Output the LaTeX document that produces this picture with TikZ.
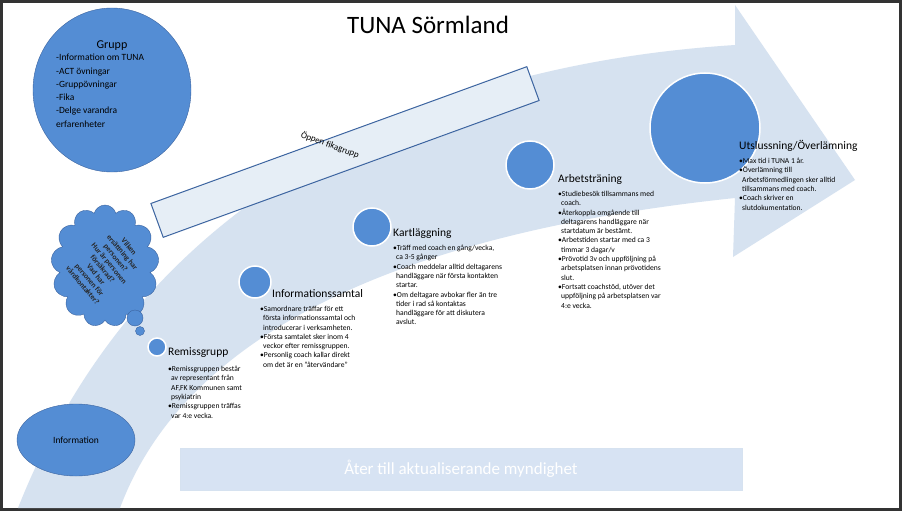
\documentclass[tikz,border=0pt]{standalone}
\usepackage{fontspec}
\setmainfont{Carlito}
\usetikzlibrary{shapes.symbols,shapes.geometric}
\definecolor{band}{RGB}{214,226,240}
\definecolor{cblue}{RGB}{84,141,212}
\definecolor{dblue}{RGB}{60,100,160}
\tikzset{
  step circle/.style={circle,fill=cblue,draw=white,line width=1.5pt,inner sep=0pt},
  head/.style={font=\fontsize{11.5}{13}\selectfont,anchor=west,inner sep=0pt},
  body/.style={font=\fontsize{7.6}{9.3}\selectfont,anchor=north west,inner sep=0pt,align=left},
}
\begin{document}
\begin{tikzpicture}[x=1pt,y=-1pt]
\fill[white] (0,0) rectangle (902,511);
\draw[black!80,line width=3pt] (1.5,1.5) rectangle (900.5,509.5);
% arrow band
\fill[band] (18,508) .. controls (120,250) and (350,70) .. (735,45)
  -- (735,5) -- (855,180) -- (733,257) -- (735,198)
  .. controls (430,230) and (190,320) .. (120,508) -- cycle;
% open group rectangle
\node[draw=dblue,fill=band!60,line width=1pt,minimum width=400,minimum height=36,rotate=20] (fika) at (345,152) {};
\node[rotate=-20,font=\fontsize{9}{10}\selectfont] (fikat) at (330,145) {Öppen fikagrupp};
% back rectangle
\node[fill=band!80!cblue!60,draw=band,minimum width=562,minimum height=42,
  text=white,font=\fontsize{17}{20}\selectfont] (ater) at (461,469) {Åter till aktualiserande myndighet};
\node[font=\fontsize{25}{30}\selectfont] (title) at (428,25) {TUNA Sörmland};
% grupp
\node[ellipse,fill=cblue,draw=dblue,minimum width=158,minimum height=164] (grupp) at (112,90) {};
\node[font=\fontsize{12}{14}\selectfont] (gt) at (112,46) {Grupp};
\node[font=\fontsize{9.5}{13.3}\selectfont,align=left,anchor=north west,inner sep=0pt] (gl) at (56,54)
 {-Information om TUNA\\-ACT övningar\\-Gruppövningar\\-Fika\\-Delge varandra\\erfarenheter};
% information
\node[ellipse,fill=cblue,draw=dblue,minimum width=118,minimum height=72,
  font=\fontsize{9.5}{11}\selectfont] (info) at (76,440) {Information};
% cloud
\node[cloud,cloud puffs=13,aspect=0.85,fill=cblue,draw=dblue,minimum width=108,minimum height=122] (cloud) at (105,266) {};
\node[circle,fill=cblue,draw=dblue,minimum size=16,inner sep=0] (p1) at (135,318) {};
\node[circle,fill=cblue,draw=dblue,minimum size=9,inner sep=0] (p2) at (140,331) {};
\node[rotate=-50,align=center,font=\bfseries\fontsize{7.5}{8.6}\selectfont,text=black!85] (ct) at (106,266)
 {Vilken\\ersättning har\\personen?\\Hur är personen\\försäkrad?\\Vad har\\personen för\\vårdkontakter?};
% steps
\node[step circle,minimum size=18] (c1) at (157,347) {};
\node[step circle,minimum size=32] (c2) at (255,282) {};
\node[step circle,minimum size=38] (c3) at (372,227) {};
\node[step circle,minimum size=48] (c4) at (530,165) {};
\node[step circle,minimum size=110] (c5) at (705,128) {};
\node[head] (h1) at (168,353) {Remissgrupp};
\node[body] (b1) at (168,366) {•Remissgruppen består\\\ \,av representant från\\\ \,AF,FK Kommunen samt\\\ \,psykiatrin\\•Remissgruppen träffas\\\ \,var 4:e vecka.};
\node[head] (h2) at (272,294) {Informationssamtal};
\node[body] (b2) at (260,306) {•Samordnare träffar för ett\\\ \,första informationssamtal och\\\ \,introducerar i verksamheten.\\•Första samtalet sker inom 4\\\ \,veckor efter remissgruppen.\\•Personlig coach kallar direkt\\\ \,om det är en ”återvändare”};
\node[head] (h3) at (393,233) {Kartläggning};
\node[body] (b3) at (393,245) {•Träff med coach en gång/vecka,\\\ \,ca 3-5 gånger\\•Coach meddelar alltid deltagarens\\\ \,handläggare när första kontakten\\\ \,startar.\\•Om deltagare avbokar fler än tre\\\ \,tider i rad så kontaktas\\\ \,handläggare för att diskutera\\\ \,avslut.};
\node[head] (h4) at (558,179) {Arbetsträning};
\node[body] (b4) at (558,191) {•Studiebesök tillsammans med\\\ \,coach.\\•Återkoppla omgående till\\\ \,deltagarens handläggare när\\\ \,startdatum är bestämt.\\•Arbetstiden startar med ca 3\\\ \,timmar 3 dagar/v\\•Prövotid 3v och uppföljning på\\\ \,arbetsplatsen innan prövotidens\\\ \,slut.\\•Fortsatt coachstöd, utöver det\\\ \,uppföljning på arbetsplatsen var\\\ \,4:e vecka.};
\node[head] (h5) at (739,146) {Utslussning/Överlämning};
\node[body] (b5) at (739,158) {•Max tid i TUNA 1 år.\\•Överlämning till\\\ \,Arbetsförmedlingen sker alltid\\\ \,tillsammans med coach.\\•Coach skriver en\\\ \,slutdokumentation.};
\end{tikzpicture}
\end{document}
